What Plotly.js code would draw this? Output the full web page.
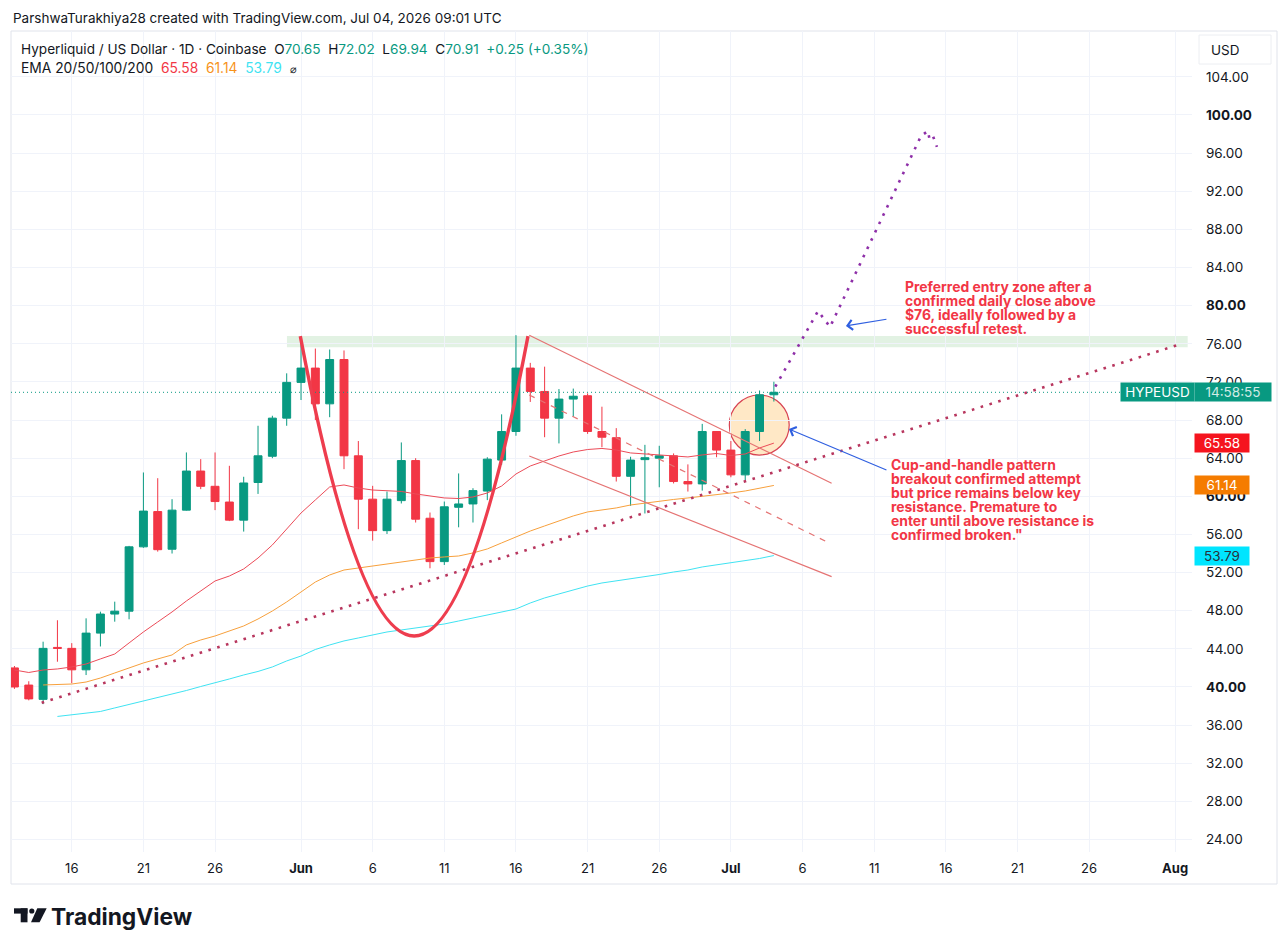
<!DOCTYPE html>
<html><head><meta charset="utf-8">
<script src="https://cdn.plot.ly/plotly-3.0.1.min.js"></script>
<style>html,body{margin:0;padding:0;background:#fff;}#chart{width:1288px;height:952px;}</style>
</head><body><div id="chart"></div>
<script>
// ---------------- DATA ----------------
const dates = [
 '2026-05-12','2026-05-13','2026-05-14','2026-05-15','2026-05-16','2026-05-17','2026-05-18','2026-05-19','2026-05-20','2026-05-21',
 '2026-05-22','2026-05-23','2026-05-24','2026-05-25','2026-05-26','2026-05-27','2026-05-28','2026-05-29','2026-05-30','2026-05-31',
 '2026-06-01','2026-06-02','2026-06-03','2026-06-04','2026-06-05','2026-06-06','2026-06-07','2026-06-08','2026-06-09','2026-06-10',
 '2026-06-11','2026-06-12','2026-06-13','2026-06-14','2026-06-15','2026-06-16','2026-06-17','2026-06-18','2026-06-19','2026-06-20',
 '2026-06-21','2026-06-22','2026-06-23','2026-06-24','2026-06-25','2026-06-26','2026-06-27','2026-06-28','2026-06-29','2026-06-30',
 '2026-07-01','2026-07-02','2026-07-03','2026-07-04'];
const openP = [42.0,40.2,38.7,44.15,44.05,41.8,45.65,47.65,47.95,54.7,
 58.4,54.45,58.55,62.65,61.05,59.4,57.5,61.45,64.2,68.2,
 71.95,73.45,69.7,74.35,64.25,59.7,56.4,59.55,63.75,57.7,
 53.15,58.85,59.2,60.55,63.8,66.8,73.45,71.0,68.2,70.2,
 70.55,66.8,66.15,62.1,63.85,64.0,64.25,61.55,61.3,66.8,
 64.85,62.25,66.8,70.65];
const highP = [42.2,40.6,44.75,47.0,44.6,47.2,47.9,48.95,54.8,62.5,
 61.9,59.7,64.6,63.9,64.6,63.2,62.05,67.4,68.45,72.9,
 76.2,75.5,75.4,75.3,65.8,61.1,60.5,65.65,64.0,58.3,
 59.45,62.4,60.85,64.1,68.6,76.9,74.0,73.6,71.25,71.3,
 70.8,69.4,67.15,64.15,65.4,65.3,64.5,63.35,67.6,66.85,
 65.8,67.05,71.1,72.02];
const lowP = [39.8,38.6,38.2,42.65,40.4,41.25,44.25,46.85,47.1,54.6,
 54.2,54.0,58.5,60.75,58.55,57.4,56.3,60.25,64.0,67.4,
 70.1,68.0,68.3,62.85,56.55,55.35,56.05,59.25,57.25,52.45,
 52.8,56.75,57.25,59.6,63.3,66.35,69.9,66.2,65.55,68.35,
 66.55,65.15,61.55,59.0,58.2,60.95,61.35,60.5,60.6,64.1,
 62.0,61.7,65.8,69.94];
const closeP = [40.0,38.75,44.05,44.05,41.8,45.65,47.65,47.95,54.7,58.45,
 54.4,58.55,62.65,61.05,59.45,57.5,61.4,64.25,68.2,71.95,
 73.45,69.7,74.35,64.25,59.7,56.4,59.7,63.75,57.6,53.15,
 58.9,59.2,60.6,63.9,66.8,73.45,71.0,68.2,70.2,70.5,
 66.8,66.2,62.1,63.8,64.05,64.25,61.55,61.3,66.8,64.85,
 62.25,66.8,70.65,70.91];
const ema20 = [41.78,41.52,41.78,41.89,42.1,42.41,42.94,43.46,44.62,45.77,
 46.82,47.87,49.02,50.07,51.12,51.64,52.38,53.53,54.9,56.57,
 58.25,59.62,60.98,61.19,60.87,60.66,60.56,60.51,60.25,60.04,
 59.83,59.77,59.93,60.35,61.08,62.34,63.18,63.71,64.23,64.65,
 64.91,65.02,64.86,64.55,64.44,64.34,64.23,64.13,64.34,64.49,
 64.28,64.44,65.07,65.58];
const ema50 = [null,null,40.21,40.26,40.31,40.52,40.94,41.47,41.99,42.52,
 42.94,43.36,44.41,44.93,45.35,45.87,46.4,47.13,47.97,48.92,
 49.97,51.01,51.75,52.27,52.48,52.69,52.85,53.11,53.32,53.53,
 53.64,53.74,54.06,54.48,55.11,55.73,56.36,56.89,57.41,57.94,
 58.36,58.57,58.78,59.09,59.3,59.51,59.67,59.83,59.98,60.14,
 60.35,60.56,60.82,61.14];
const ema100 = [null,null,null,36.91,37.06,37.22,37.43,37.8,38.16,38.53,
 38.95,39.27,39.63,40.05,40.42,40.84,41.26,41.63,42.1,42.73,
 43.25,43.93,44.41,44.83,45.14,45.45,45.77,45.98,46.19,46.4,
 46.61,46.92,47.24,47.55,47.81,48.18,48.81,49.34,49.76,50.18,
 50.59,50.91,51.12,51.33,51.54,51.8,52.06,52.27,52.59,52.8,
 53.01,53.22,53.48,53.79];
const xTickDates = ['2026-05-16','2026-05-21','2026-05-26','2026-06-01','2026-06-06','2026-06-11','2026-06-16','2026-06-21',
 '2026-06-26','2026-07-01','2026-07-06','2026-07-11','2026-07-16','2026-07-21','2026-07-26','2026-08-01'];
const xTickLabels = ['16','21','26','Jun','6','11','16','21','26','Jul','6','11','16','21','26','Aug'];
const xBoldLabels = ['Jun','Jul','Aug'];
const yTickValues = [24,28,32,36,40,44,48,52,56,60,64,68,72,76,80,84,88,92,96,100,104];
const yBoldValues = [40,60,80,100];
const lastPrice = 70.91;
const emaLast = [65.58, 61.14, 53.79];
const symbolName = 'HYPEUSD';
const countdown = '14:58:55';

// drawings: [day offset from 2026-06-01, price]
const cupLeft = [-0.05, 76.8], cupBottom = [7.9, 45.35], cupRight = [15.84, 76.8];
const zoneLow = 75.63, zoneHigh = 76.82, zoneStart = -0.98;
const chanUpper = [[15.93, 76.9], [37.03, 61.37]];
const chanLower = [[15.93, 64.23], [37.03, 51.57]];
const chanMid = [[15.93, 70.63], [36.9, 55.07]];
const trendLine = [[-18.1, 38.35], [61.2, 75.87]];
const circleBox = [29.89, 34.07, 64.33, 70.63];
const projection = [[33.1, 71.5], [36.08, 79.44], [36.92, 77.77], [43.27, 97.8], [43.75, 98.32], [43.86, 97.48], [44.1, 97.8], [44.38, 96.65]];
const arrow1 = {head: [38.03, 77.87], tail: [40.96, 78.6]};
const arrow2 = {head: [34.05, 67.06], tail: [40.96, 62.69]};
const note1 = ['Preferred entry zone after a', 'confirmed daily close above', '$76, ideally followed by a', 'successful retest.'];
const note2 = ['Cup-and-handle pattern', 'breakout confirmed attempt', 'but price remains below key', 'resistance. Premature to', 'enter until above resistance is', 'confirmed broken."'];

// ---------------- helpers ----------------
const base = Date.UTC(2026, 5, 1);
const dayOf = s => (Date.parse(s + 'T00:00:00Z') - base) / 864e5;
const xs = dates.map(dayOf);
const W = 1288, H = 952;
const PL = 11, PR = 1192, PT = 31, PB = 852;
const px = x => (x - PL) / (PR - PL);
const py = y => (PB - y) / (PB - PT);
const XR = [-20.24, 62.18], YR = [22.69, 108.81];
const yPix = v => PB - (v - YR[0]) / (YR[1] - YR[0]) * (PB - PT);

const FONT = 'Inter, "Noto Sans", sans-serif';
const DARK = '#131722';
const GREEN = '#089981', RED = '#f23645';

const traces = [
 {type: 'scatter', mode: 'lines', x: xs, y: ema100, line: {color: '#3fe3f2', width: 1}, hoverinfo: 'skip', connectgaps: false},
 {type: 'scatter', mode: 'lines', x: xs, y: ema50, line: {color: '#f7a03c', width: 1}, hoverinfo: 'skip'},
 {type: 'scatter', mode: 'lines', x: xs, y: ema20, line: {color: '#ec4b58', width: 1}, hoverinfo: 'skip'},
 {type: 'candlestick', x: xs, open: openP, high: highP, low: lowP, close: closeP,
  increasing: {line: {color: GREEN, width: 1}, fillcolor: GREEN},
  decreasing: {line: {color: RED, width: 1}, fillcolor: RED},
  whiskerwidth: 0, hoverinfo: 'skip'}
];

const pathOf = pts => 'M ' + pts.map(p => p[0] + ',' + p[1]).join(' L ');

const shapes = [
 // chart frame
 {type: 'rect', xref: 'paper', yref: 'paper', x0: px(11), x1: px(1277), y0: py(31), y1: py(884), line: {color: '#e0e3eb', width: 1}, layer: 'below'},
 // resistance zone
 {type: 'rect', xref: 'x', yref: 'y', x0: zoneStart, x1: XR[1] - 0.3, y0: zoneLow, y1: zoneHigh, fillcolor: 'rgba(76,175,80,0.16)', line: {width: 0}, layer: 'below'},
 // circle
 {type: 'circle', xref: 'x', yref: 'y', x0: circleBox[0], x1: circleBox[1], y0: circleBox[2], y1: circleBox[3], fillcolor: 'rgba(255,183,77,0.32)', line: {color: '#d84352', width: 1.2}, layer: 'below'},
 // current price line
 {type: 'line', xref: 'paper', yref: 'y', x0: 0, x1: px(1121), y0: lastPrice, y1: lastPrice, line: {color: GREEN, width: 1, dash: '1px,3px'}},
 // cup
 {type: 'path', xref: 'x', yref: 'y', path: `M ${cupLeft[0]},${cupLeft[1]} Q ${cupBottom[0]},${2*cupBottom[1]-cupLeft[1]} ${cupRight[0]},${cupRight[1]}`, line: {color: '#ee3d4e', width: 3.4}},
 // channel
 {type: 'line', xref: 'x', yref: 'y', x0: chanUpper[0][0], y0: chanUpper[0][1], x1: chanUpper[1][0], y1: chanUpper[1][1], line: {color: '#e57373', width: 1.2}},
 {type: 'line', xref: 'x', yref: 'y', x0: chanLower[0][0], y0: chanLower[0][1], x1: chanLower[1][0], y1: chanLower[1][1], line: {color: '#e57373', width: 1.2}},
 {type: 'line', xref: 'x', yref: 'y', x0: chanMid[0][0], y0: chanMid[0][1], x1: chanMid[1][0], y1: chanMid[1][1], line: {color: '#e57373', width: 1.2, dash: '6px,6px'}},
 // rising dotted trend
 {type: 'line', xref: 'x', yref: 'y', x0: trendLine[0][0], y0: trendLine[0][1], x1: trendLine[1][0], y1: trendLine[1][1], line: {color: '#b8365e', width: 2.6, dash: '2.6px,6.6px'}},
 // projection
 {type: 'path', xref: 'x', yref: 'y', path: pathOf(projection), line: {color: '#8e2fa8', width: 2.6, dash: '2.6px,6.6px'}},
 // USD box
 {type: 'rect', xref: 'paper', yref: 'paper', x0: px(1199), x1: px(1271), y0: py(35), y1: py(64), fillcolor: '#ffffff', line: {color: '#eceef2', width: 1}},
 // TradingView logo mark
 {type: 'rect', xref: 'paper', yref: 'paper', x0: px(14), x1: px(27.5), y0: py(908.3), y1: py(913.6), fillcolor: DARK, line: {width: 0}},
 {type: 'rect', xref: 'paper', yref: 'paper', x0: px(20.7), x1: px(27.5), y0: py(908.3), y1: py(922.3), fillcolor: DARK, line: {width: 0}},
 {type: 'circle', xref: 'paper', yref: 'paper', x0: px(29.2), x1: px(34.4), y0: py(908.4), y1: py(913.6), fillcolor: DARK, line: {width: 0}},
 {type: 'path', xref: 'paper', yref: 'paper', path: `M ${px(37.3)},${py(908.3)} L ${px(46.7)},${py(908.3)} L ${px(39.6)},${py(922.3)} L ${px(31)},${py(922.3)} Z`, fillcolor: DARK, line: {width: 0}}
];

const ann = [];
// header
ann.push({xref: 'paper', yref: 'paper', x: px(11), y: py(18), xanchor: 'left', yanchor: 'middle', showarrow: false,
 text: 'ParshwaTurakhiya28 created with TradingView.com, Jul 04, 2026 09:01 UTC', font: {family: FONT, size: 13.5, color: DARK}});
// legend lines
const g = s => `<span style="color:${GREEN}">${s}</span>`;
const NB = '\u00a0';
ann.push({xref: 'paper', yref: 'paper', x: px(19), y: py(49), xanchor: 'left', yanchor: 'middle', showarrow: false,
 text: `Hyperliquid / US Dollar · 1D · Coinbase${NB}${NB}O${g(openP[53].toFixed(2))}${NB}${NB}H${g(highP[53].toFixed(2))}${NB}${NB}L${g(lowP[53].toFixed(2))}${NB}${NB}C${g(closeP[53].toFixed(2))}${NB}${NB}${g('+0.25 (+0.35%)')}`,
 font: {family: FONT, size: 13.6, color: DARK}});
ann.push({xref: 'paper', yref: 'paper', x: px(19), y: py(68), xanchor: 'left', yanchor: 'middle', showarrow: false,
 text: `EMA 20/50/100/200${NB}${NB}<span style="color:#f23645">${emaLast[0].toFixed(2)}</span>${NB}${NB}<span style="color:#f7931a">${emaLast[1].toFixed(2)}</span>${NB}${NB}<span style="color:#3fe3f2">${emaLast[2].toFixed(2)}</span>${NB}${NB}<span style="font-size:11px">⌀</span>`,
 font: {family: FONT, size: 13.8, color: DARK}});
// USD
ann.push({xref: 'paper', yref: 'paper', x: px(1209), y: py(50), xanchor: 'left', yanchor: 'middle', showarrow: false, text: 'USD', font: {family: FONT, size: 13.5, color: DARK}});
// price labels
const lab = (x0, x1, v, bg, txt, col) => ann.push({xref: 'paper', yref: 'paper', x: px((x0 + x1) / 2), y: py(yPix(v)), xanchor: 'center', yanchor: 'middle', showarrow: false,
 width: x1 - x0, height: 18, borderpad: 0, bgcolor: bg, text: txt, font: {family: FONT, size: 13.5, color: col}});
lab(1121, 1194, lastPrice, GREEN, symbolName, '#ffffff');
lab(1195, 1271, lastPrice, GREEN, countdown, 'rgba(255,255,255,0.82)');
lab(1195, 1249, emaLast[0], '#f5141e', emaLast[0].toFixed(2), '#ffffff');
lab(1195, 1249, emaLast[1], '#f57c00', emaLast[1].toFixed(2), '#ffffff');
lab(1195, 1249, emaLast[2], '#00e5ff', emaLast[2].toFixed(2), '#2a2e39');
// arrows
[arrow1, arrow2].forEach(a => ann.push({xref: 'x', yref: 'y', axref: 'x', ayref: 'y', x: a.head[0], y: a.head[1], ax: a.tail[0], ay: a.tail[1],
 text: '', showarrow: true, arrowhead: 4, arrowsize: 1.6, arrowwidth: 1.2, arrowcolor: '#2f5fe0', standoff: 0}));
// notes
const noteFont = {family: FONT, size: 13.9, color: '#f23645', weight: 700};
note1.forEach((t, i) => ann.push({xref: 'paper', yref: 'paper', x: px(903), y: py(287 + 14 * i), xanchor: 'left', yanchor: 'middle', showarrow: false, text: t, font: noteFont}));
note2.forEach((t, i) => ann.push({xref: 'paper', yref: 'paper', x: px(889), y: py(465 + 14 * i), xanchor: 'left', yanchor: 'middle', showarrow: false, text: t, font: noteFont}));
// footer brand
ann.push({xref: 'paper', yref: 'paper', x: px(49), y: py(916), xanchor: 'left', yanchor: 'middle', showarrow: false, text: 'TradingView', font: {family: FONT, size: 22.8, color: DARK, weight: 700}});

const layout = {
 width: W, height: H,
 margin: {l: PL, r: W - PR, t: PT, b: H - PB, pad: 0},
 paper_bgcolor: '#ffffff', plot_bgcolor: '#ffffff',
 showlegend: false, boxgap: 0.21, dragmode: false,
 xaxis: {type: 'linear', range: XR, tickmode: 'array', tickvals: xTickDates.map(dayOf),
  ticktext: xTickLabels.map(t => xBoldLabels.includes(t) ? `<b>${t}</b>` : t),
  showgrid: true, gridcolor: '#f0f3fa', gridwidth: 1, zeroline: false, showline: false, ticks: '',
  tickfont: {family: FONT, size: 13, color: DARK}, ticklabelstandoff: 7, rangeslider: {visible: false}, fixedrange: true},
 yaxis: {type: 'linear', side: 'right', range: YR, tickmode: 'array', tickvals: yTickValues,
  ticktext: yTickValues.map(v => yBoldValues.includes(v) ? `<b>${v.toFixed(2)}</b>` : v.toFixed(2)),
  showgrid: true, gridcolor: '#f0f3fa', gridwidth: 1, zeroline: false, showline: false, ticks: '',
  tickfont: {family: FONT, size: 13.5, color: DARK}, ticklabelstandoff: 13, fixedrange: true},
 shapes: shapes, annotations: ann
};

Plotly.newPlot('chart', traces, layout, {displayModeBar: false, staticPlot: true});
</script>
</body></html>
